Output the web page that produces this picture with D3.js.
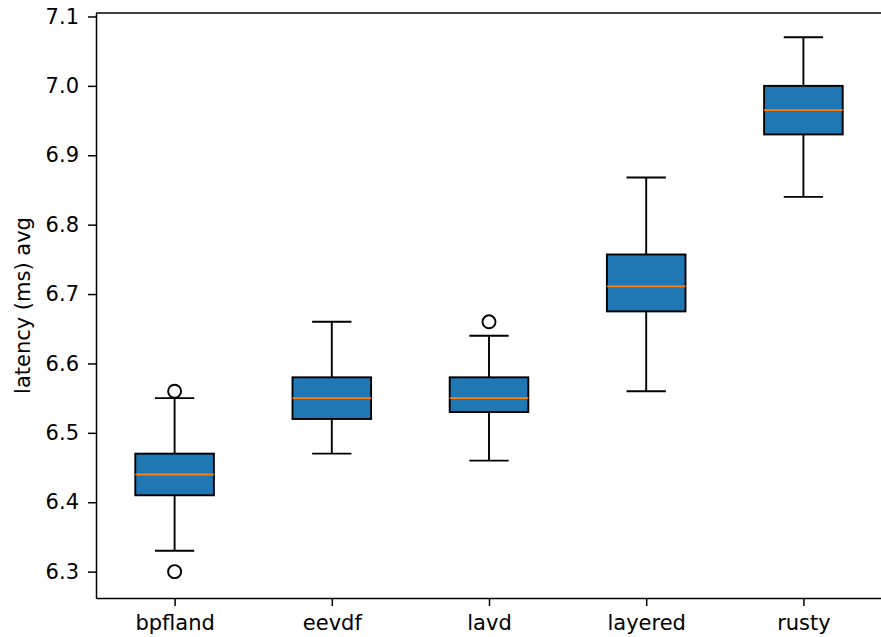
<!DOCTYPE html>
<html lang="en">
<head>
    <meta charset="UTF-8">
    <script src="https://d3js.org/d3.v7.min.js"></script>
    <title>latency boxplot</title>
    <style>
        body { margin: 0; background: white; }
        text { font-family: 'DejaVu Sans', sans-serif; fill: #000; }
        .axis text { font-size: 21px; }
        .axis path, .axis line { stroke: #000; stroke-width: 1.5px; }
        text.ylabel { font-size: 21px; text-anchor: middle; }
    </style>
</head>
<body>
<svg height="637" width="881"></svg>
<script>
    const height = 637, width = 881;
    const margin = {top: 13, right: -1, bottom: 39, left: 96};

    const schedulers = ["bpfland", "eevdf", "lavd", "layered", "rusty"];
    const whiskerLow  = [6.33, 6.47, 6.46, 6.56, 6.84];
    const q1          = [6.41, 6.52, 6.53, 6.675, 6.93];
    const median      = [6.44, 6.55, 6.55, 6.711, 6.965];
    const q3          = [6.47, 6.58, 6.58, 6.757, 7.0];
    const whiskerHigh = [6.55, 6.66, 6.64, 6.868, 7.07];
    const outliers    = [[6.56, 6.30], [], [6.66], [], []];
    const yTicks = [6.3, 6.4, 6.5, 6.6, 6.7, 6.8, 6.9, 7.0, 7.1];

    const svg = d3.select("svg");
    const x = d3.scaleLinear().domain([0.5, 5.5])
            .range([margin.left, width - margin.right]);
    const y = d3.scaleLinear().domain([6.262, 7.105])
            .range([height - margin.bottom, margin.top]);

    const boxW = x(1.25) - x(1);   // half box width (0.5 wide boxes)
    const capW = boxW / 2;

    const rows = schedulers.map((s, i) => ({
        name: s, pos: i + 1, lo: whiskerLow[i], q1: q1[i], med: median[i],
        q3: q3[i], hi: whiskerHigh[i], out: outliers[i]
    }));

    const g = svg.append("g");
    const box = g.selectAll("g.box").data(rows).enter().append("g").attr("class", "box");

    // whiskers
    box.append("line")
            .attr("x1", d => x(d.pos)).attr("x2", d => x(d.pos))
            .attr("y1", d => y(d.lo)).attr("y2", d => y(d.q1))
            .attr("stroke", "#000").attr("stroke-width", 1.9);
    box.append("line")
            .attr("x1", d => x(d.pos)).attr("x2", d => x(d.pos))
            .attr("y1", d => y(d.q3)).attr("y2", d => y(d.hi))
            .attr("stroke", "#000").attr("stroke-width", 1.9);
    // caps
    ["lo", "hi"].forEach(k => {
        box.append("line")
                .attr("x1", d => x(d.pos) - capW).attr("x2", d => x(d.pos) + capW)
                .attr("y1", d => y(d[k])).attr("y2", d => y(d[k]))
                .attr("stroke", "#000").attr("stroke-width", 1.9);
    });
    // box
    box.append("rect")
            .attr("x", d => x(d.pos) - boxW).attr("width", 2 * boxW)
            .attr("y", d => y(d.q3)).attr("height", d => y(d.q1) - y(d.q3))
            .attr("fill", "#1f77b4").attr("stroke", "#000").attr("stroke-width", 1.9);
    // median
    box.append("line")
            .attr("x1", d => x(d.pos) - boxW).attr("x2", d => x(d.pos) + boxW)
            .attr("y1", d => y(d.med)).attr("y2", d => y(d.med))
            .attr("stroke", "#ff7f0e").attr("stroke-width", 1.9);
    // fliers
    box.selectAll("circle").data(d => d.out.map(v => ({pos: d.pos, v: v})))
            .enter().append("circle")
            .attr("cx", d => x(d.pos)).attr("cy", d => y(d.v)).attr("r", 6.5)
            .attr("fill", "none").attr("stroke", "#000").attr("stroke-width", 1.9);

    // axes
    const xAxis = d3.axisBottom(x).tickValues([1, 2, 3, 4, 5])
            .tickFormat(d => schedulers[d - 1]).tickSize(8).tickPadding(9).tickSizeOuter(0);
    const yAxis = d3.axisLeft(y).tickValues(yTicks)
            .tickFormat(d3.format(".1f")).tickSize(8).tickPadding(9).tickSizeOuter(0);

    svg.append("g").attr("class", "axis")
            .attr("transform", `translate(0,${height - margin.bottom})`).call(xAxis);
    svg.append("g").attr("class", "axis")
            .attr("transform", `translate(${margin.left},0)`).call(yAxis);

    // top and right spines
    svg.append("line").attr("x1", margin.left).attr("x2", width - margin.right)
            .attr("y1", margin.top).attr("y2", margin.top)
            .attr("stroke", "#000").attr("stroke-width", 1.5);
    svg.append("line").attr("x1", width - margin.right).attr("x2", width - margin.right)
            .attr("y1", margin.top).attr("y2", height - margin.bottom)
            .attr("stroke", "#000").attr("stroke-width", 1.5);

    svg.append("text").attr("class", "ylabel")
            .attr("transform", `translate(30,${(margin.top + height - margin.bottom) / 2}) rotate(-90)`)
            .text("latency (ms) avg");
</script>
</body>
</html>
